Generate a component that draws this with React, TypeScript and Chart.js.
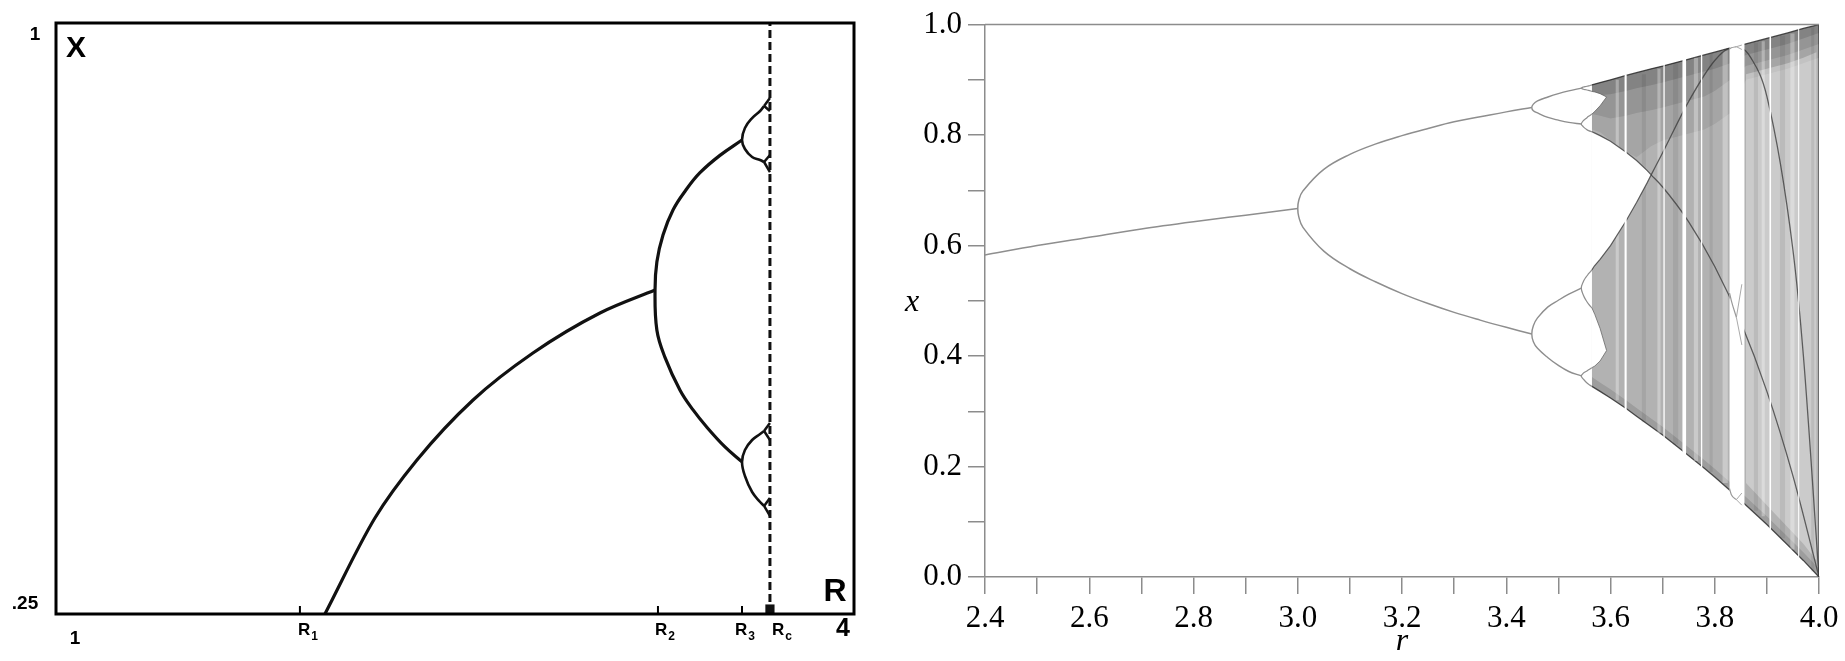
import React, { useEffect, useRef } from "react";
import { Chart, registerables } from "chart.js";

Chart.register(...registerables);

// ================= Left panel (schematic; R axis 1..4, X axis .25..1) =================
const L_R_MIN = 1;
const L_R_MAX = 4;
const L_X_MIN = 0.25;
const L_X_MAX = 1;

const L_MAIN_R = [2.011, 2.199, 2.357, 2.568, 2.793, 3.045, 3.252];
const L_MAIN_X = [0.25, 0.3718, 0.4454, 0.5216, 0.5812, 0.632, 0.6612];

const L_UP_R = [3.252, 3.259, 3.282, 3.32, 3.368, 3.421, 3.496, 3.579];
const L_UP_X = [0.6612, 0.697, 0.731, 0.763, 0.788, 0.81, 0.832, 0.8515];

const L_LOW_R = [3.252, 3.259, 3.289, 3.346, 3.395, 3.447, 3.515, 3.579];
const L_LOW_X = [0.6612, 0.61, 0.576, 0.534, 0.509, 0.487, 0.462, 0.443];

const L_ARM_R = [3.579, 3.59, 3.617, 3.647, 3.662];
const L_ARM_UU = [0.8515, 0.8668, 0.8794, 0.8883, 0.8947];
const L_ARM_UL = [0.8515, 0.8401, 0.8299, 0.8261, 0.8236];
const L_ARM_LU = [0.443, 0.4581, 0.4708, 0.4784, 0.4822];
const L_ARM_LL = [0.443, 0.4251, 0.4048, 0.3921, 0.3871];

const L_RC = 3.684;
const L_FORK_HI = [0.9048, 0.8325, 0.4924, 0.3972];
const L_FORK_LO = [0.8883, 0.8109, 0.4708, 0.3744];

const L_MARK_R = [1.917, 3.263, 3.579, 3.684];
const L_MARK_SUB = ["1", "2", "3", "c"];
const L_RC_BLOCK_X = 0.2563;

// ================= Right panel (logistic map bifurcation) =================
const R_X_TICKS = [2.4, 2.5, 2.6, 2.7, 2.8, 2.9, 3.0, 3.1, 3.2, 3.3, 3.4, 3.5, 3.6, 3.7, 3.8, 3.9, 4.0];
const R_Y_TICKS = [0, 0.1, 0.2, 0.3, 0.4, 0.5, 0.6, 0.7, 0.8, 0.9, 1.0];

const R_P1_R = [2.4, 2.5, 2.6, 2.7, 2.8, 2.9, 3.0];
const R_P1_X = [0.583, 0.6, 0.615, 0.63, 0.643, 0.655, 0.667];

const R_P2_R = [3.0, 3.002, 3.01, 3.05, 3.1, 3.15, 3.2, 3.25, 3.3, 3.35, 3.4, 3.449];
const R_P2_HI = [0.667, 0.682, 0.699, 0.738, 0.765, 0.784, 0.799, 0.812, 0.824, 0.833, 0.842, 0.85];
const R_P2_LO = [0.667, 0.652, 0.633, 0.59, 0.558, 0.534, 0.513, 0.495, 0.479, 0.465, 0.452, 0.44];

const R_P4_R = [3.449, 3.452, 3.46, 3.48, 3.5, 3.52, 3.544];
const R_P4_A = [0.85, 0.856, 0.862, 0.869, 0.875, 0.88, 0.885];
const R_P4_B = [0.85, 0.844, 0.84, 0.832, 0.827, 0.823, 0.82];
const R_P4_C = [0.44, 0.455, 0.469, 0.489, 0.501, 0.512, 0.523];
const R_P4_D = [0.44, 0.426, 0.414, 0.397, 0.383, 0.372, 0.364];

const R_P8_R = [3.544, 3.548, 3.553, 3.558, 3.5644];
const R_P8_AH = [0.885, 0.887, 0.888, 0.889, 0.891];
const R_P8_AL = [0.885, 0.883, 0.882, 0.881, 0.879];
const R_P8_BH = [0.82, 0.826, 0.83, 0.834, 0.838];
const R_P8_BL = [0.82, 0.815, 0.811, 0.808, 0.806];
const R_P8_CH = [0.523, 0.535, 0.543, 0.549, 0.556];
const R_P8_CL = [0.523, 0.51, 0.501, 0.494, 0.487];
const R_P8_DH = [0.364, 0.369, 0.372, 0.375, 0.379];
const R_P8_DL = [0.364, 0.358, 0.353, 0.349, 0.345];

const R_CLOUD_R = [3.5644, 3.58, 3.6, 3.63, 3.65, 3.678, 3.7, 3.74, 3.78, 3.8, 3.83, 3.86, 3.9, 3.94, 3.97, 4.0];
const R_CLOUD_HI = [0.891, 0.895, 0.9, 0.908, 0.913, 0.92, 0.925, 0.935, 0.945, 0.95, 0.958, 0.965, 0.975, 0.985, 0.993, 1.0];
const R_CLOUD_LO = [0.345, 0.336, 0.324, 0.305, 0.291, 0.272, 0.257, 0.227, 0.197, 0.181, 0.156, 0.13, 0.095, 0.058, 0.03, 0.0];
const R_DENSE1_LO = [0.87, 0.872, 0.874, 0.88, 0.885, 0.89, 0.895, 0.905, 0.915, 0.92, 0.93, 0.945, 0.955, 0.965, 0.975, 0.985];
const R_DENSE2_LO = [0.838, 0.835, 0.83, 0.835, 0.84, 0.845, 0.85, 0.86, 0.87, 0.88, 0.9, 0.925, 0.935, 0.945, 0.955, 0.965];
const R_DENSE3_LO = [0.81, 0.805, 0.79, 0.77, 0.76, 0.78, 0.79, 0.8, 0.81, 0.82, 0.84, 0.9, 0.91, 0.92, 0.93, 0.94];
const R_LOWEDGE_HI = [0.362, 0.352, 0.34, 0.32, 0.306, 0.287, 0.272, 0.242, 0.212, 0.196, 0.171, 0.145, 0.11, 0.073, 0.045, 0.015];

const R_LIGHT_R = [3.86, 3.9, 3.94, 3.97, 3.995];
const R_LIGHT_HI = [0.91, 0.92, 0.93, 0.94, 0.95];
const R_LIGHT_LO = [0.17, 0.13, 0.09, 0.06, 0.03];

const R_GAP_R = [3.5644, 3.569, 3.58, 3.6, 3.63, 3.65, 3.67, 3.678];
const R_GAP_HI = [0.806, 0.804, 0.799, 0.789, 0.769, 0.754, 0.736, 0.728];
const R_GAP_LO = [0.556, 0.563, 0.575, 0.6, 0.645, 0.678, 0.713, 0.728];

const R_SGAP_R = [3.5644, 3.57, 3.58, 3.5925];
const R_SGAP_LOW_HI = [0.487, 0.475, 0.45, 0.41];
const R_SGAP_LOW_LO = [0.379, 0.382, 0.391, 0.41];
const R_SGAP_UP_HI = [0.879, 0.878, 0.875, 0.869];
const R_SGAP_UP_LO = [0.838, 0.843, 0.853, 0.869];

const R_F3_R = [3.678, 3.7, 3.75, 3.8, 3.85, 3.9, 3.95, 4.0];
const R_F3_X = [0.728, 0.706, 0.643, 0.562, 0.461, 0.336, 0.183, 0.0];
const R_F4_R = [3.678, 3.7, 3.75, 3.8, 3.83, 3.85, 3.87, 3.9, 3.95, 3.97, 4.0];
const R_F4_X = [0.728, 0.768, 0.861, 0.935, 0.957, 0.957, 0.939, 0.87, 0.592, 0.401, 0.0];

const R_STREAK_R = [3.61, 3.66, 3.69, 3.72, 3.76, 3.79, 3.815, 3.875, 3.89, 3.925, 3.945, 3.985];
const R_STREAK_W = [0.006, 0.008, 0.006, 0.01, 0.008, 0.006, 0.01, 0.008, 0.006, 0.01, 0.008, 0.006];
const R_STREAK_LO = [0.32, 0.28, 0.26, 0.24, 0.21, 0.19, 0.17, 0.12, 0.11, 0.07, 0.05, 0.01];
const R_STREAK_HI = [0.9, 0.91, 0.92, 0.93, 0.94, 0.947, 0.953, 0.967, 0.97, 0.98, 0.984, 0.995];

const R_WIN_START = [3.627, 3.7015, 3.738, 3.7735, 3.8284, 3.905, 3.96];
const R_WIN_END = [3.631, 3.704, 3.745, 3.776, 3.857, 3.908, 3.962];
const R_WIN_LO = [0.3, 0.25, 0.22, 0.19, 0.12, 0.08, 0.03];
const R_WIN_HI = [0.91, 0.93, 0.94, 0.95, 0.97, 0.98, 0.995];

const R_P3_R = [3.8284, 3.8319, 3.8415];
const R_P3_TOP = [0.956, 0.958, 0.96];
const R_P3_MID = [0.514, 0.5, 0.47];
const R_P3_BOT = [0.16, 0.149, 0.14];
const R_P3_FORK_END = 3.852;
const R_P3_FORK_HI = [0.963, 0.53, 0.152];
const R_P3_FORK_LO = [0.955, 0.42, 0.13];

// ================= helpers =================
type P = { x: number; y: number };
const pts = (rs: number[], xs: number[]): P[] => rs.map((r, i) => ({ x: r, y: xs[i] }));
const band = (rs: number[], hi: number[], lo: number[]): P[] => [...pts(rs, hi), ...pts(rs, lo).reverse()];
// a fork: one branch walked backwards to the shared vertex, then the other branch forwards
const loop = (rs: number[], a: number[], b: number[]): P[] => [...pts(rs, a).reverse(), ...pts(rs, b).slice(1)];
const loop2 = (ra: number[], a: number[], rb: number[], b: number[]): P[] => [
  ...pts(ra, a).reverse(),
  ...pts(rb, b).slice(1),
];

const curve = (data: P[], color: string, width: number, order: number, extra: any = {}) => ({
  data,
  borderColor: color,
  borderWidth: width,
  pointRadius: 0,
  fill: false,
  cubicInterpolationMode: "monotone",
  order,
  ...extra,
});
const smooth = (data: P[], color: string, width: number, order: number, extra: any = {}) => ({
  data,
  borderColor: color,
  borderWidth: width,
  pointRadius: 0,
  fill: false,
  tension: 0.4,
  order,
  ...extra,
});
const poly = (data: P[], bg: string, border: string, bw: number, order: number) => ({
  data,
  backgroundColor: bg,
  borderColor: border,
  borderWidth: bw,
  pointRadius: 0,
  fill: "shape",
  tension: 0,
  order,
});

// ================= left chart =================
const LEFT_FONT = '"Liberation Sans", "DejaVu Sans", sans-serif';
const leftDecor = {
  id: "leftDecor",
  afterDatasetsDraw(chart: any) {
    const { ctx, chartArea: a, scales } = chart;
    const xs = scales.x;
    ctx.save();
    ctx.strokeStyle = "#000";
    ctx.lineWidth = 3;
    ctx.strokeRect(a.left, a.top, a.right - a.left, a.bottom - a.top);
    ctx.lineWidth = 2;
    L_MARK_R.slice(0, 3).forEach((v) => {
      const px = xs.getPixelForValue(v);
      ctx.beginPath();
      ctx.moveTo(px, a.bottom);
      ctx.lineTo(px, a.bottom - 8);
      ctx.stroke();
    });
    ctx.fillStyle = "#000";
    ctx.textBaseline = "middle";
    ctx.textAlign = "center";
    ctx.font = `bold 19px ${LEFT_FONT}`;
    ctx.fillText("1", a.left - 21, a.top + 12);
    ctx.fillText(".25", a.left - 31, a.bottom - 10);
    ctx.fillText("1", a.left + 19, a.bottom + 25);
    ctx.font = `bold 25px ${LEFT_FONT}`;
    ctx.fillText("4", a.right - 11, a.bottom + 15);
    ctx.font = `bold 30px ${LEFT_FONT}`;
    ctx.fillText("X", a.left + 20, a.top + 26);
    ctx.font = `bold 32px ${LEFT_FONT}`;
    ctx.fillText("R", a.right - 19, a.bottom - 22);
    const shifts = [-2, -3, -7, 2];
    L_MARK_SUB.forEach((s, i) => {
      const px = xs.getPixelForValue(L_MARK_R[i]) + shifts[i];
      ctx.textAlign = "left";
      ctx.font = `bold 17px ${LEFT_FONT}`;
      ctx.fillText("R", px, a.bottom + 16);
      const w = ctx.measureText("R").width;
      ctx.font = `bold 12px ${LEFT_FONT}`;
      ctx.fillText(s, px + w + 1, a.bottom + 23);
    });
    ctx.restore();
  },
};

function leftConfig(): any {
  const ink = "#111";
  const armEnd = L_ARM_R[L_ARM_R.length - 1];
  const armEnds = [L_ARM_UU, L_ARM_UL, L_ARM_LU, L_ARM_LL].map((a) => a[a.length - 1]);
  const forks: any[] = [];
  armEnds.forEach((y0, i) => {
    forks.push(curve([{ x: armEnd, y: y0 }, { x: L_RC, y: L_FORK_HI[i] }], ink, 2.5, 1, { clip: false }));
    forks.push(curve([{ x: armEnd, y: y0 }, { x: L_RC, y: L_FORK_LO[i] }], ink, 2.5, 1, { clip: false }));
  });
  return {
    type: "line",
    data: {
      datasets: [
        curve(pts(L_MAIN_R, L_MAIN_X), ink, 3.2, 1, { clip: false }),
        smooth(loop2(L_UP_R, L_UP_X, L_LOW_R, L_LOW_X), ink, 3.2, 1, { clip: false }),
        smooth(loop(L_ARM_R, L_ARM_UU, L_ARM_UL), ink, 2.6, 1, { clip: false }),
        smooth(loop(L_ARM_R, L_ARM_LU, L_ARM_LL), ink, 2.6, 1, { clip: false }),
        ...forks,
        {
          data: [{ x: L_RC, y: L_X_MIN }, { x: L_RC, y: L_X_MAX }],
          borderColor: ink,
          borderWidth: 3,
          borderDash: [8, 4],
          pointRadius: 0,
          fill: false,
          order: 2,
        },
        {
          data: [{ x: L_RC, y: L_RC_BLOCK_X }],
          showLine: false,
          pointStyle: "rect",
          pointRadius: 6.5,
          pointBackgroundColor: ink,
          pointBorderColor: ink,
          borderWidth: 0,
          order: 0,
          clip: false,
        },
      ],
    },
    options: {
      responsive: false,
      animation: false,
      events: [],
      layout: { padding: { left: 56, right: 46, top: 23, bottom: 47 } },
      plugins: { legend: { display: false }, tooltip: { enabled: false } },
      scales: {
        x: { type: "linear", min: L_R_MIN, max: L_R_MAX, display: false },
        y: { type: "linear", min: L_X_MIN, max: L_X_MAX, display: false },
      },
    },
    plugins: [leftDecor],
  };
}

// ================= right chart =================
const SERIF = '"Liberation Serif", "DejaVu Serif", serif';
const AXIS_GRAY = "#8c8c8c";
const rightDecor = {
  id: "rightDecor",
  afterDraw(chart: any) {
    const { ctx, chartArea: a } = chart;
    ctx.save();
    ctx.strokeStyle = AXIS_GRAY;
    ctx.lineWidth = 1.5;
    ctx.beginPath();
    ctx.moveTo(a.left, a.top);
    ctx.lineTo(a.right, a.top);
    ctx.stroke();
    ctx.fillStyle = "#000";
    ctx.font = `italic 32px ${SERIF}`;
    ctx.textAlign = "center";
    ctx.textBaseline = "alphabetic";
    ctx.fillText("x", 12, (a.top + a.bottom) / 2 + 10);
    ctx.restore();
  },
};

function rightConfig(): any {
  const branch = "#8e8e8e";
  const ds: any[] = [];
  // periodic branches (top-most)
  ds.push(curve(pts(R_P1_R, R_P1_X), branch, 1.5, 1));
  ds.push(smooth(loop(R_P2_R, R_P2_HI, R_P2_LO), branch, 1.5, 1));
  ds.push(smooth(loop(R_P4_R, R_P4_A, R_P4_B), branch, 1.4, 1));
  ds.push(smooth(loop(R_P4_R, R_P4_C, R_P4_D), branch, 1.4, 1));
  ds.push(smooth(loop(R_P8_R, R_P8_AH, R_P8_AL), branch, 1.2, 1));
  ds.push(smooth(loop(R_P8_R, R_P8_BH, R_P8_BL), branch, 1.2, 1));
  ds.push(smooth(loop(R_P8_R, R_P8_CH, R_P8_CL), branch, 1.2, 1));
  ds.push(smooth(loop(R_P8_R, R_P8_DH, R_P8_DL), branch, 1.2, 1));
  // period-3 window orbit
  [R_P3_TOP, R_P3_MID, R_P3_BOT].forEach((a, i) => {
    ds.push(curve(pts(R_P3_R, a), "#999", 1.2, 1));
    const r0 = R_P3_R[R_P3_R.length - 1];
    const y0 = a[a.length - 1];
    ds.push(curve([{ x: r0, y: y0 }, { x: R_P3_FORK_END, y: R_P3_FORK_HI[i] }], "#aaa", 1, 1));
    ds.push(curve([{ x: r0, y: y0 }, { x: R_P3_FORK_END, y: R_P3_FORK_LO[i] }], "#aaa", 1, 1));
  });
  // white windows
  R_WIN_START.forEach((r0, i) => {
    const r1 = R_WIN_END[i];
    ds.push(
      poly(
        [
          { x: r0, y: R_WIN_LO[i] },
          { x: r0, y: R_WIN_HI[i] },
          { x: r1, y: R_WIN_HI[i] },
          { x: r1, y: R_WIN_LO[i] },
        ],
        "#ffffff",
        "rgba(0,0,0,0)",
        0,
        3
      )
    );
  });
  // dark crossing curves inside the chaotic band
  ds.push(curve(pts(R_F3_R, R_F3_X), "rgba(55,55,55,0.75)", 1.3, 4));
  ds.push(curve(pts(R_F4_R, R_F4_X), "rgba(55,55,55,0.75)", 1.3, 4));
  // gaps between bands
  ds.push(poly(band(R_GAP_R, R_GAP_HI, R_GAP_LO), "#ffffff", "rgba(60,60,60,0.8)", 1.2, 5));
  ds.push(poly(band(R_SGAP_R, R_SGAP_LOW_HI, R_SGAP_LOW_LO), "#ffffff", "rgba(90,90,90,0.7)", 1, 5));
  ds.push(poly(band(R_SGAP_R, R_SGAP_UP_HI, R_SGAP_UP_LO), "#ffffff", "rgba(90,90,90,0.7)", 1, 5));
  // vertical streaks
  R_STREAK_R.forEach((r0, i) => {
    const r1 = r0 + R_STREAK_W[i];
    ds.push(
      poly(
        [
          { x: r0, y: R_STREAK_LO[i] },
          { x: r0, y: R_STREAK_HI[i] },
          { x: r1, y: R_STREAK_HI[i] },
          { x: r1, y: R_STREAK_LO[i] },
        ],
        i % 2 === 0 ? "rgba(255,255,255,0.3)" : "rgba(0,0,0,0.08)",
        "rgba(0,0,0,0)",
        0,
        6
      )
    );
  });
  // lighter right region
  ds.push(poly(band(R_LIGHT_R, R_LIGHT_HI, R_LIGHT_LO), "rgba(255,255,255,0.32)", "rgba(0,0,0,0)", 0, 7));
  // dense edge bands (layered for a soft gradient)
  ds.push(poly(band(R_CLOUD_R, R_CLOUD_HI, R_DENSE1_LO), "rgba(0,0,0,0.12)", "rgba(0,0,0,0)", 0, 8));
  ds.push(poly(band(R_CLOUD_R, R_CLOUD_HI, R_DENSE2_LO), "rgba(0,0,0,0.1)", "rgba(0,0,0,0)", 0, 8));
  ds.push(poly(band(R_CLOUD_R, R_CLOUD_HI, R_DENSE3_LO), "rgba(0,0,0,0.08)", "rgba(0,0,0,0)", 0, 8));
  ds.push(poly(band(R_CLOUD_R, R_LOWEDGE_HI, R_CLOUD_LO), "rgba(0,0,0,0.12)", "rgba(0,0,0,0)", 0, 8));
  // chaotic cloud
  ds.push(poly(band(R_CLOUD_R, R_CLOUD_HI, R_CLOUD_LO), "rgba(0,0,0,0.3)", "rgba(60,60,60,0.9)", 1.3, 9));

  const tickFont = { family: SERIF, size: 31 };
  const label = (v: any, i: number) => (i % 2 === 0 ? Number(v).toFixed(1) : "");
  return {
    type: "line",
    data: { datasets: ds },
    options: {
      responsive: false,
      animation: false,
      events: [],
      layout: { padding: { left: 0, right: 26, top: 21, bottom: 0 } },
      plugins: { legend: { display: false }, tooltip: { enabled: false } },
      scales: {
        x: {
          type: "linear",
          min: R_X_TICKS[0],
          max: R_X_TICKS[R_X_TICKS.length - 1],
          afterBuildTicks: (s: any) => {
            s.ticks = R_X_TICKS.map((v) => ({ value: v }));
          },
          afterFit: (s: any) => {
            s.height = 84;
          },
          ticks: { autoSkip: false, maxRotation: 0, minRotation: 0, padding: 6, color: "#000", font: tickFont, callback: label },
          grid: { display: true, drawOnChartArea: false, drawTicks: true, tickLength: 17, color: AXIS_GRAY, lineWidth: 1.5 },
          border: { display: true, color: AXIS_GRAY, width: 1.5 },
          title: {
            display: true,
            text: "r",
            color: "#000",
            font: { family: SERIF, size: 32, style: "italic" },
            padding: { top: 0, bottom: 0 },
          },
        },
        y: {
          type: "linear",
          min: R_Y_TICKS[0],
          max: R_Y_TICKS[R_Y_TICKS.length - 1],
          afterBuildTicks: (s: any) => {
            s.ticks = R_Y_TICKS.map((v) => ({ value: v }));
          },
          afterFit: (s: any) => {
            s.width = 85;
          },
          ticks: { autoSkip: false, padding: 6, color: "#000", font: tickFont, callback: label },
          grid: { display: true, drawOnChartArea: false, drawTicks: true, tickLength: 17, color: AXIS_GRAY, lineWidth: 1.5 },
          border: { display: true, color: AXIS_GRAY, width: 1.5 },
        },
      },
    },
    plugins: [rightDecor],
  };
}

export default function App() {
  const leftRef = useRef<HTMLCanvasElement>(null);
  const rightRef = useRef<HTMLCanvasElement>(null);
  useEffect(() => {
    const c1 = new Chart(leftRef.current as HTMLCanvasElement, leftConfig());
    const c2 = new Chart(rightRef.current as HTMLCanvasElement, rightConfig());
    return () => {
      c1.destroy();
      c2.destroy();
    };
  }, []);
  return (
    <div>
      <canvas
        ref={leftRef}
        width={900}
        height={661}
        style={{ position: "absolute", left: 0, top: 0, width: 900, height: 661 }}
      />
      <canvas
        ref={rightRef}
        width={945}
        height={661}
        style={{ position: "absolute", left: 900, top: 0, width: 945, height: 661 }}
      />
    </div>
  );
}
